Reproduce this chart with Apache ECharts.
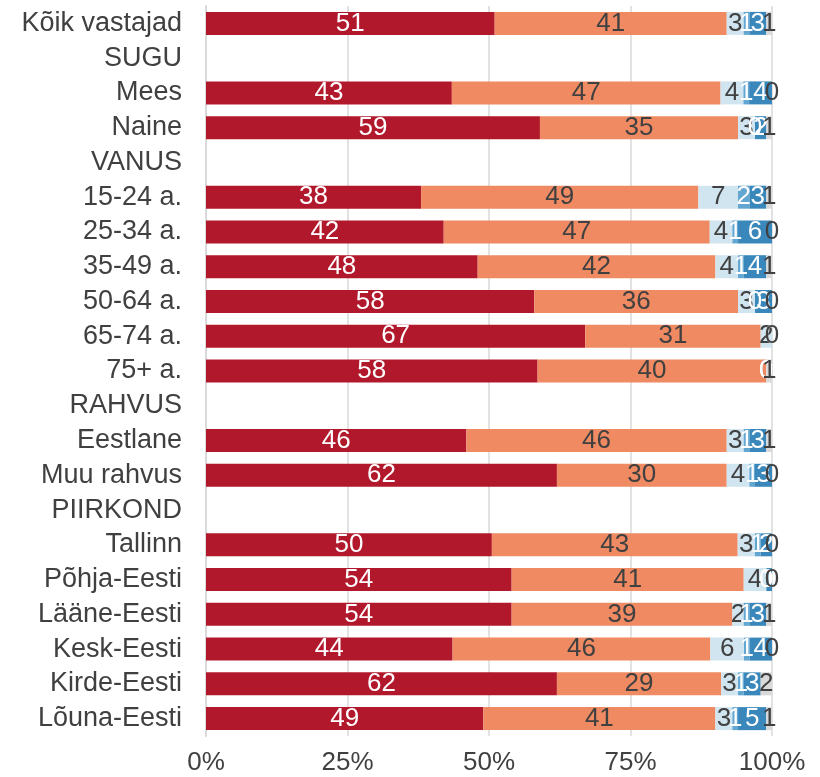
<!DOCTYPE html>
<html>
<head>
<meta charset="utf-8">
<script src="https://cdn.jsdelivr.net/npm/echarts@6/dist/echarts.min.js"></script>
<style>html,body{margin:0;padding:0;background:#fff}#c{width:820px;height:777px}</style>
</head>
<body>
<div id="c"></div>
<script>
const categories = ["Kõik vastajad","SUGU","Mees","Naine","VANUS","15-24 a.","25-34 a.","35-49 a.","50-64 a.","65-74 a.","75+ a.","RAHVUS","Eestlane","Muu rahvus","PIIRKOND","Tallinn","Põhja-Eesti","Lääne-Eesti","Kesk-Eesti","Kirde-Eesti","Lõuna-Eesti"];
// null = header row without bar
const s1 = [51,null,43,59,null,38,42,48,58,67,58,null,46,62,null,50,54,54,44,62,49];
const s2 = [41,null,47,35,null,49,47,42,36,31,40,null,46,30,null,43,41,39,46,29,41];
const s3 = [3,null,4,3,null,7,4,4,3,2,0,null,3,4,null,3,4,2,6,3,3];
const s4 = [1,null,1,0,null,2,1,1,0,0,0,null,1,1,null,1,0,1,1,1,1];
const s5 = [3,null,4,2,null,3,6,4,3,0,0,null,3,3,null,2,1,3,4,3,5];
const s6 = [1,null,0,1,null,1,0,1,0,0,1,null,1,0,null,0,0,1,0,2,1];
const xTicks = ["0%","25%","50%","75%","100%"];

const allSeries = [s1,s2,s3,s4,s5,s6];
const colors = ["#B2182B","#EF8A62","#D1E5F0","#62A6D2","#3A88BB","#D9D9D9"];
const labelColors = ["#ffffff","#404040","#404040","#ffffff","#ffffff","#404040"];
const totals = categories.map((c,i)=> s1[i]===null ? null : allSeries.reduce((a,s)=>a+s[i],0));

const series = allSeries.map((arr,k)=>({
  type:'bar', stack:'t', barWidth:23, clip:false,
  itemStyle:{color:colors[k]},
  data: arr.map((v,i)=> v===null ? '-' : {value: v/totals[i]*100, raw: v}),
  label:{show:true, position:'inside', color:labelColors[k], fontSize:26,
    fontFamily:'Liberation Sans, Arial, sans-serif',
    formatter:p=> (p.data && p.data.raw!==undefined) ? String(p.data.raw) : ''},
  labelLayout:{hideOverlap:false},
  silent:true
}));

const chart = echarts.init(document.getElementById('c'));
chart.setOption({
  animation:false,
  grid:{left:206, right:48, top:6, bottom:41, containLabel:false},
  xAxis:{type:'value', min:0, max:100, interval:25,
    axisLabel:{formatter:v=>xTicks[v/25], color:'#404040', fontSize:26, fontFamily:'Liberation Sans, Arial, sans-serif', margin:14},
    splitLine:{show:true, lineStyle:{color:'#D9D9D9', width:1.5}},
    axisLine:{show:false}, axisTick:{show:false}},
  yAxis:{type:'category', inverse:true, data:categories,
    axisLine:{show:true, lineStyle:{color:'#D9D9D9', width:2}},
    axisTick:{show:false},
    axisLabel:{interval:0, color:'#404040', fontSize:27, fontFamily:'Liberation Sans, Arial, sans-serif', margin:24}},
  series:series
});
</script>
</body>
</html>
